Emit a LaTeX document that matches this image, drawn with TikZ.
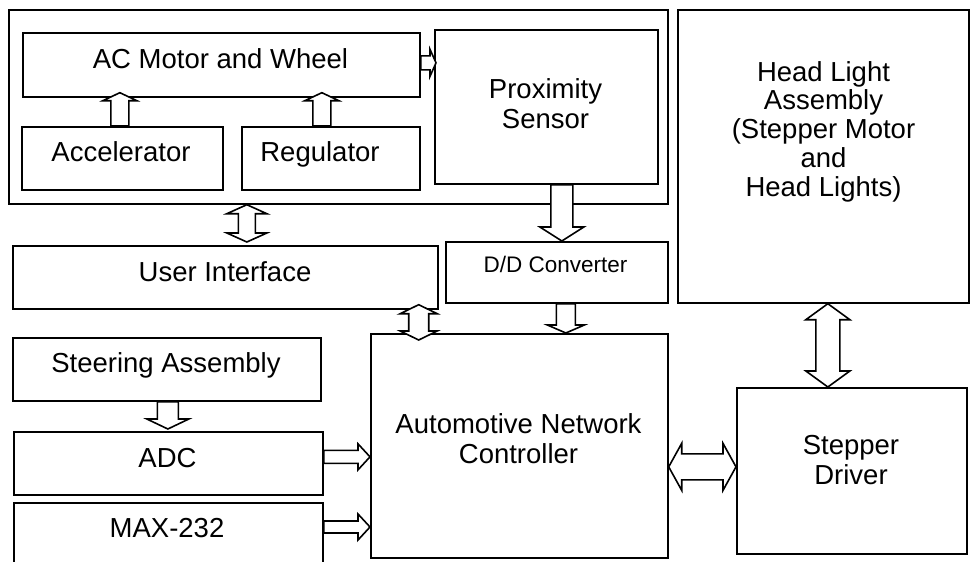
\documentclass[tikz,border=0pt]{standalone}
\usepackage{fontspec}
\setmainfont{Liberation Sans}
\usepackage{tikz}
\usetikzlibrary{calc}
% hollow block arrows: shaft width, head width, head length, from, to
\newcommand{\fatarrow}[5]{%
  \draw[arr] let \p1=#4, \p2=#5, \n1={atan2(\y2-\y1,\x2-\x1)}, \n2={veclen(\x2-\x1,\y2-\y1)} in
    [shift={(\p1)},rotate=\n1]
    (0,-#1/2) -- (\n2-#3,-#1/2) -- (\n2-#3,-#2/2) -- (\n2,0) -- (\n2-#3,#2/2) -- (\n2-#3,#1/2) -- (0,#1/2) -- cycle;}
\newcommand{\fatdarrow}[5]{%
  \draw[arr] let \p1=#4, \p2=#5, \n1={atan2(\y2-\y1,\x2-\x1)}, \n2={veclen(\x2-\x1,\y2-\y1)} in
    [shift={(\p1)},rotate=\n1]
    (0,0) -- (#3,-#2/2) -- (#3,-#1/2) -- (\n2-#3,-#1/2) -- (\n2-#3,-#2/2) -- (\n2,0) -- (\n2-#3,#2/2) -- (\n2-#3,#1/2) -- (#3,#1/2) -- (#3,#2/2) -- cycle;}

\begin{document}
\begin{tikzpicture}[x=1pt,y=-1pt,
  blk/.style={draw,line width=1.7pt,inner sep=0pt,anchor=north west},
  lbl/.style={font=\fontsize{27.5}{30}\selectfont,inner sep=0pt,align=center},
  arr/.style={draw,fill=white,line width=1.6pt,line join=miter}]
  \useasboundingbox (0,0) rectangle (972,562);
  % boxes
  \foreach \nm/\x/\y/\w/\h in {sys/8/9/659/194, acm/22/32/397/64, acc/21/126/201/63, reg/241/126/178/63,
      prox/434/29/223/154, ui/12/245/425/63, dd/445/241/222/61, hl/677/9/291/293,
      ctrl/370/333/297/224, steer/12/337/308/63, adc/13/431/309/63, max/13/502/309/70, stp/736/387/230/166}
    \node[blk,minimum width=\w pt,minimum height=\h pt] (\nm) at (\x,\y) {};
  % labels
  \foreach \nm/\x/\y/\t in {acmL/220.5/68/AC Motor and Wheel, accL/121/161/Accelerator, regL/320/161/Regulator,
      uiL/225/281/User Interface, steerL/166/372/Steering Assembly, adcL/167.5/467/ADC, maxL/167/537/MAX-232}
    \node[lbl,anchor=base] (\nm) at (\x,\y) {\t};
  \node[lbl,anchor=base,font=\fontsize{22.5}{26}\selectfont] (ddL) at (555.5,272) {D/D Converter};
  \node[lbl] (proxL) at (545.5,103.5) {Proximity\\Sensor};
  \node[lbl] (ctrlL) at (518.5,438.3) {Automotive Network\\Controller};
  \node[lbl] (stpL) at (851,460.3) {Stepper\\Driver};
  \node[lbl,font=\fontsize{27.5}{28.75}\selectfont] (hlL) at (823.5,131.6) {Head Light\\Assembly\\(Stepper Motor\\and\\Head Lights)};
  % arrows
  \fatarrow{18}{34}{8}{($(acc.north)+(-2.5,0)$)}{($(acc.north |- acm.south)+(-2.5,-5)$)}
  \fatarrow{18}{34}{8}{($(reg.north)+(-9,0)$)}{($(reg.north |- acm.south)+(-9,-5)$)}
  \fatarrow{14}{27}{6}{($(acm.east)+(0,-2)$)}{($(acm.east -| prox.west)+(2,-2)$)}
  \fatarrow{22}{44}{14}{($(prox.south)+(15.5,0)$)}{($(prox.south |- dd.north)+(15.5,0)$)}
  \fatarrow{19}{37}{8}{($(dd.south)+(9,0)$)}{($(dd.south |- ctrl.north)+(9,0)$)}
  \fatdarrow{17}{40}{9}{($(ui.north |- sys.south)+(21.5,0)$)}{($(ui.north)+(21.5,-3)$)}
  \fatdarrow{20}{37}{9}{($(ui.south east)+(-20,-5)$)}{($(ui.south east |- ctrl.north)+(-20,7)$)}
  \fatarrow{21}{42}{10}{($(steer.south)+(1,0)$)}{($(steer.south |- adc.north)+(1,-2)$)}
  \fatarrow{13}{26}{12}{($(adc.east)+(0,-6.5)$)}{($(adc.east -| ctrl.west)+(0,-6.5)$)}
  \fatarrow{12}{26}{12}{($(max.north east)+(0,25)$)}{($(max.north east -| ctrl.west)+(0,25)$)}
  \fatdarrow{26}{47}{13}{($(ctrl.east |- stp.west)+(0,-4)$)}{($(stp.west)+(0,-4)$)}
  \fatdarrow{24}{44}{16}{($(hl.south)+(4.5,0)$)}{($(hl.south |- stp.north)+(4.5,0)$)}
\end{tikzpicture}
\end{document}
